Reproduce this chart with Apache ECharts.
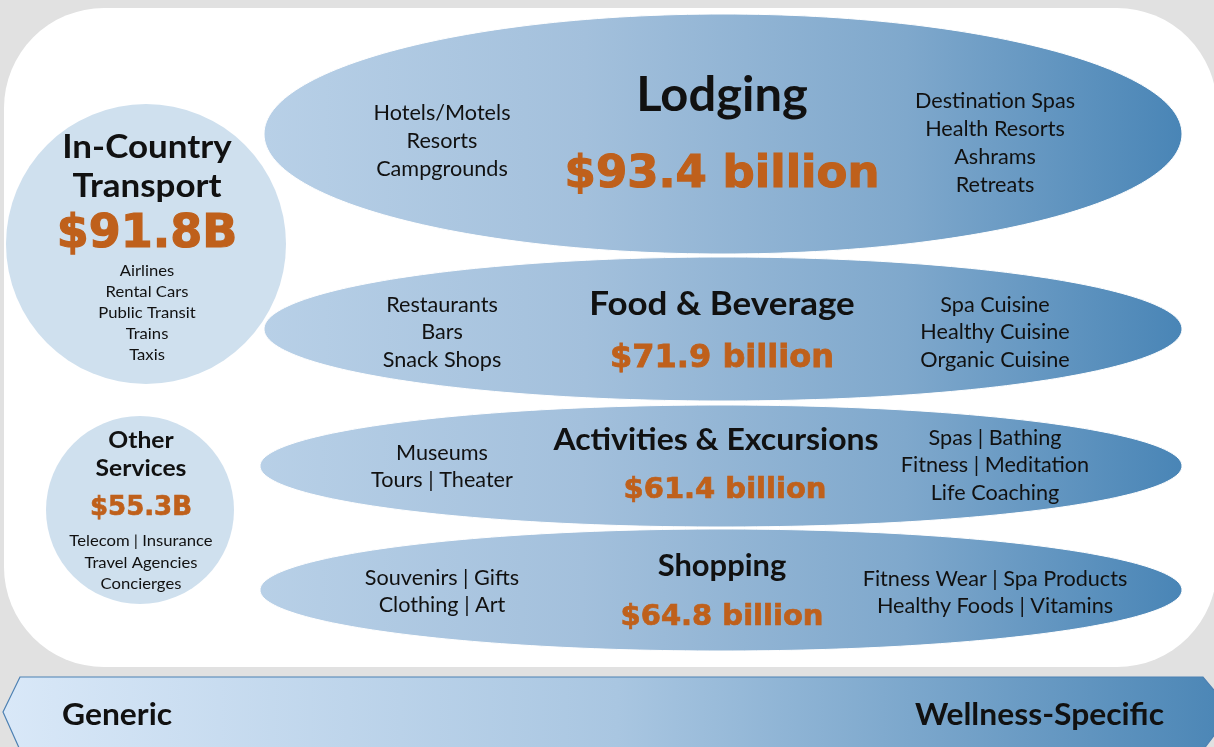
<!DOCTYPE html>
<html>
<head>
<meta charset="utf-8">
<script src="https://cdn.jsdelivr.net/npm/echarts@6/dist/echarts.min.js"></script>
<style>
html,body{margin:0;padding:0;background:#e1e1e1;}
#chart{width:1214px;height:747px;}
</style>
</head>
<body>
<div id="chart"></div>
<script>
// ---- data ----
var categories = ['Lodging', 'Food & Beverage', 'Activities & Excursions', 'Shopping'];
var values = [93.4, 71.9, 61.4, 64.8];
var genericItems = [
  ['Hotels/Motels', 'Resorts', 'Campgrounds'],
  ['Restaurants', 'Bars', 'Snack Shops'],
  ['Museums', 'Tours | Theater'],
  ['Souvenirs | Gifts', 'Clothing | Art']
];
var wellnessItems = [
  ['Destination Spas', 'Health Resorts', 'Ashrams', 'Retreats'],
  ['Spa Cuisine', 'Healthy Cuisine', 'Organic Cuisine'],
  ['Spas | Bathing', 'Fitness | Meditation', 'Life Coaching'],
  ['Fitness Wear | Spa Products', 'Healthy Foods | Vitamins']
];
var sideCategories = [['In-Country', 'Transport'], ['Other', 'Services']];
var sideValues = [91.8, 55.3];
var sideItems = [
  ['Airlines', 'Rental Cars', 'Public Transit', 'Trains', 'Taxis'],
  ['Telecom | Insurance', 'Travel Agencies', 'Concierges']
];
var axisLabels = ['Generic', 'Wellness-Specific'];

// ---- layout (not data) ----
var ORANGE = '#bf601b';
var TXT = '#111111';
var ellipses = [
  {cx: 723, cy: 134, rx: 459, ry: 120, title: {y: 96, size: 47, sx: 1.04}, val: {y: 175, size: 45}, left: {y: 113, lh: 28}, right: {y: 101, lh: 28}},
  {cx: 723, cy: 329, rx: 459, ry: 72, title: {y: 304, size: 33, sx: 1.06}, val: {y: 359, size: 32}, left: {y: 305, lh: 27.5}, right: {y: 305, lh: 27.5}},
  {cx: 721, cy: 466, rx: 461, ry: 61, title: {y: 440, size: 30, sx: 1.065, x: 716}, val: {y: 490, size: 29, x: 725}, left: {y: 453, lh: 27}, right: {y: 438, lh: 27.5}},
  {cx: 721, cy: 590, rx: 461, ry: 61, title: {y: 566, size: 30, sx: 1.03}, val: {y: 617, size: 29}, left: {y: 578, lh: 27}, right: {y: 579, lh: 27}}
];
var circles = [
  {cx: 146, cy: 244, r: 140, tx: 147, t: [147, 186], tsize: 33, tsx: 1.06, v: 235, vsize: 46, items: 271, ilh: 21, isize: 16},
  {cx: 140, cy: 510, r: 94, tx: 141, t: [440, 468], tsize: 23.5, tsx: 1.05, v: 508, vsize: 26, items: 541, ilh: 21.5, isize: 16}
];

var FONT = 'Lato, "Open Sans", sans-serif';
var NUMFONT = '"DejaVu Sans", "Liberation Sans", sans-serif';

function txt(x, y, s, size, weight, color, family, extra, sx) {
  var st = {
    x: 0, y: 0, text: s,
    fontSize: size, fontWeight: weight || 'normal',
    fontFamily: family || FONT,
    fill: color || TXT,
    align: 'center', verticalAlign: 'middle',
    textAlign: 'center', textVerticalAlign: 'middle'
  };
  if (extra) for (var k in extra) st[k] = extra[k];
  return {type: 'text', z: 10, x: x, y: y, scaleX: sx || 1, scaleY: 1, style: st};
}
function numTxt(x, y, s, size) {
  return txt(x, y, s, size, 'bold', ORANGE, NUMFONT, {stroke: ORANGE, lineWidth: size / 40});
}

var g = [];
// white rounded panel
g.push({type: 'rect', z: 1, shape: {x: 4, y: 8, width: 1213, height: 659, r: 100}, style: {fill: '#ffffff'}});

// bottom arrow band
g.push({
  type: 'polygon', z: 2,
  shape: {points: [[20, 677], [1203, 677], [1232, 712], [1203, 750], [20, 750], [3, 712]]},
  style: {
    fill: {type: 'linear', x: 0, y: 0, x2: 1, y2: 0, colorStops: [{offset: 0, color: '#d9e8f8'}, {offset: 0.5, color: '#a9c6e1'}, {offset: 1, color: '#4a85b5'}]},
    stroke: '#4d81b3', lineWidth: 1.2
  }
});
g.push(txt(62, 715, axisLabels[0], 30, 'bold', TXT, FONT, {align: 'left', textAlign: 'left'}, 1.06));
g.push(txt(1164, 715, axisLabels[1], 30, 'bold', TXT, FONT, {align: 'right', textAlign: 'right'}, 1.06));

var ellGrad = {type: 'linear', x: 0, y: 0, x2: 1, y2: 0, colorStops: [
  {offset: 0, color: '#b8d0e7'}, {offset: 0.35, color: '#a3c0dc'}, {offset: 0.7, color: '#7fa8cc'}, {offset: 1, color: '#4985b6'}
]};

ellipses.forEach(function (e, i) {
  g.push({type: 'ellipse', z: 3, shape: {cx: e.cx, cy: e.cy, rx: e.rx, ry: e.ry}, style: {fill: ellGrad, stroke: '#ffffff', lineWidth: 1}});
  g.push(txt(e.title.x || 722, e.title.y, categories[i], e.title.size, 'bold', TXT, FONT, null, e.title.sx));
  g.push(numTxt(e.val.x || 722, e.val.y, '$' + values[i].toFixed(1) + ' billion', e.val.size));
  genericItems[i].forEach(function (s, j) { g.push(txt(442, e.left.y + j * e.left.lh, s, 21, 'normal', TXT, FONT, null, 1.03)); });
  wellnessItems[i].forEach(function (s, j) { g.push(txt(995, e.right.y + j * e.right.lh, s, 21, 'normal', TXT, FONT, null, 1.03)); });
});

circles.forEach(function (c, i) {
  g.push({type: 'circle', z: 3, shape: {cx: c.cx, cy: c.cy, r: c.r}, style: {fill: '#cfe0ee'}});
  sideCategories[i].forEach(function (s, j) { g.push(txt(c.tx, c.t[j], s, c.tsize, 'bold', TXT, FONT, null, c.tsx)); });
  g.push(numTxt(c.tx, c.v, '$' + sideValues[i].toFixed(1) + 'B', c.vsize));
  sideItems[i].forEach(function (s, j) { g.push(txt(c.tx, c.items + j * c.ilh, s, c.isize, 'normal', TXT, FONT, null, 1.04)); });
});

var chart = echarts.init(document.getElementById('chart'), null, {renderer: 'canvas'});
chart.setOption({
  backgroundColor: '#e1e1e1',
  animation: false,
  graphic: {elements: g}
});
</script>
</body>
</html>
